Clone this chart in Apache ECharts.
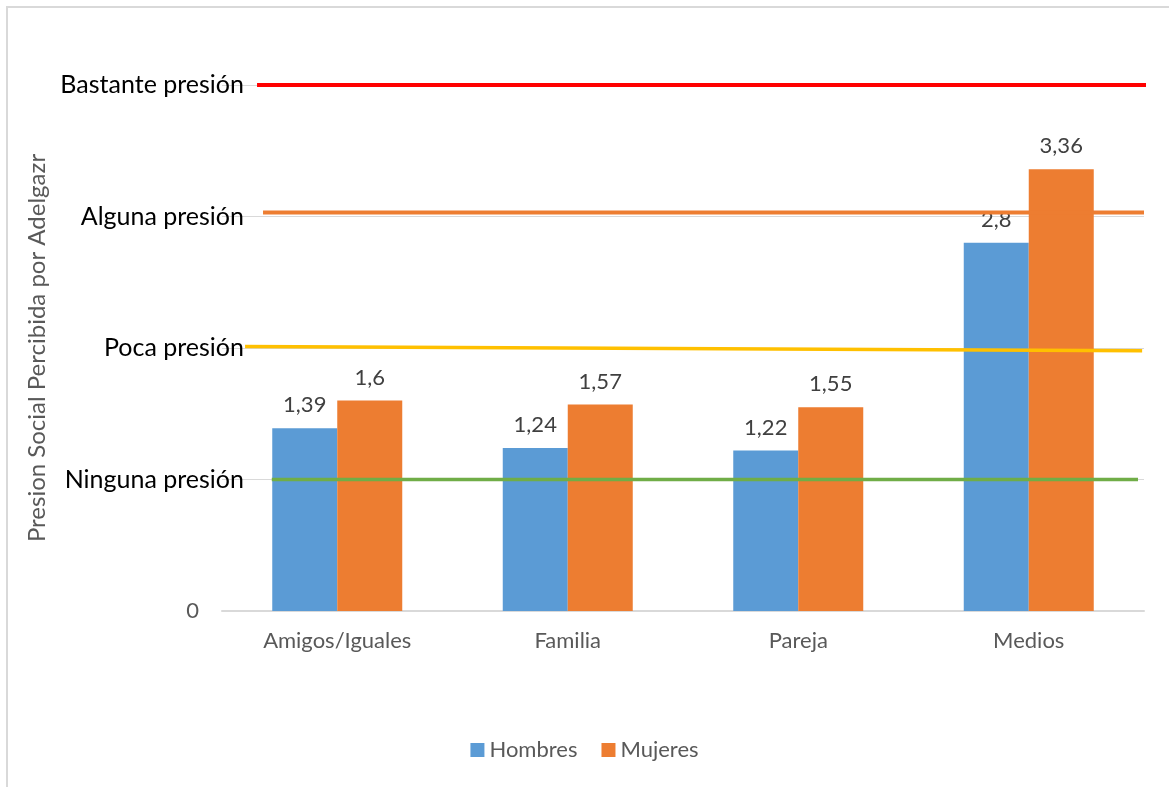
<!DOCTYPE html>
<html>
<head>
  <meta charset="utf-8" />
  <title>Presion Social Percibida por Adelgazar</title>
  <script src="https://cdn.jsdelivr.net/npm/echarts@6/dist/echarts.min.js"></script>
  <style>
    html, body { margin: 0; padding: 0; background: #fff; overflow: hidden; }
    #frame {
      position: absolute; left: 6px; top: 6px;
      width: 1300px; height: 900px;
      border: 2px solid #D9D9D9;
    }
    #main { position: absolute; left: 0; top: 0; width: 1169px; height: 787px; }
  </style>
</head>
<body>
<div id="frame"></div>
<div id="main"></div>
<script>
  // datos
  var categorias = ['Amigos/Iguales', 'Familia', 'Pareja', 'Medios'];
  var hombres = [1.39, 1.24, 1.22, 2.8];
  var mujeres = [1.6, 1.57, 1.55, 3.36];
  var nivelesNombre = ['0', 'Ninguna presión', 'Poca presión', 'Alguna presión', 'Bastante presión'];
  // niveles de referencia (valor en el eje y, inicio y fin)
  var nivelBastante = [4, 4];
  var nivelAlguna = [3.03, 3.03];
  var nivelPoca = [2.012, 1.98];
  var nivelNinguna = [1, 1];

  var fuente = 'Lato';
  var chart = echarts.init(document.getElementById('main'));

  // linea de referencia sobre un eje x auxiliar (0..1 = ancho del grid)
  function lineaNivel(nombre, ys, desde, hasta, color, ancho) {
    return {
      name: nombre,
      type: 'line',
      xAxisIndex: 1,
      yAxisIndex: 0,
      data: [[desde, ys[0]], [hasta, ys[1]]],
      symbol: 'none',
      clip: false,
      silent: true,
      z: 5,
      lineStyle: { color: color, width: ancho }
    };
  }

  var etiquetaBarra = {
    show: true, position: 'top', distance: 12,
    color: '#404040', fontSize: 22, fontFamily: fuente,
    formatter: function (p) { return String(p.value).replace('.', ','); }
  };

  var option = {
    animation: false,
    textStyle: { fontFamily: fuente },
    grid: { left: 222, right: 25, top: 85, bottom: 176 },
    legend: {
      data: ['Hombres', 'Mujeres'],
      bottom: 21,
      left: 'center',
      itemWidth: 14,
      itemHeight: 14,
      itemGap: 24,
      icon: 'rect',
      textStyle: { color: '#595959', fontSize: 22, fontFamily: fuente }
    },
    xAxis: [{
      type: 'category',
      data: categorias,
      axisLine: { lineStyle: { color: '#D9D9D9', width: 2 } },
      axisTick: { show: false },
      axisLabel: { color: '#595959', fontSize: 22, margin: 19, fontFamily: fuente }
    }, {
      type: 'value',
      min: 0,
      max: 1,
      show: false
    }],
    yAxis: {
      type: 'value',
      min: 0,
      max: 4,
      interval: 1,
      name: 'Presion Social Percibida por Adelgazr',
      nameLocation: 'middle',
      nameGap: 166,
      nameRotate: 90,
      nameTextStyle: { color: '#595959', fontSize: 24, fontFamily: fuente },
      axisLine: { show: false },
      axisTick: { show: false },
      splitLine: { lineStyle: { color: '#D9D9D9', width: 1 } },
      axisLabel: {
        margin: -22,
        formatter: function (v) {
          var t = nivelesNombre[Math.round(v)];
          return v === 0 ? '{z|' + t + '}' : '{n|' + t + '}';
        },
        rich: {
          z: { color: '#595959', fontSize: 22, fontFamily: fuente, padding: [0, 45, 0, 0] },
          n: { color: '#000000', fontSize: 25, fontFamily: fuente }
        }
      }
    },
    series: [{
      name: 'Hombres',
      type: 'bar',
      data: hombres,
      barWidth: 65,
      barGap: '0%',
      z: 2,
      itemStyle: { color: '#5B9BD5' },
      label: etiquetaBarra
    }, {
      name: 'Mujeres',
      type: 'bar',
      data: mujeres,
      barWidth: 65,
      z: 2,
      itemStyle: { color: '#ED7D31' },
      label: etiquetaBarra
    },
      lineaNivel('Bastante', nivelBastante, 0.038, 1.009, '#FF0000', 4),
      lineaNivel('Alguna', nivelAlguna, 0.0445, 1.0, '#ED7D31', 4),
      lineaNivel('Poca', nivelPoca, 0.025, 0.998, '#FFC000', 3.5),
      lineaNivel('Ninguna', nivelNinguna, 0.054, 0.9935, '#70AD47', 3.5)
    ]
  };
  chart.setOption(option);
</script>
</body>
</html>
